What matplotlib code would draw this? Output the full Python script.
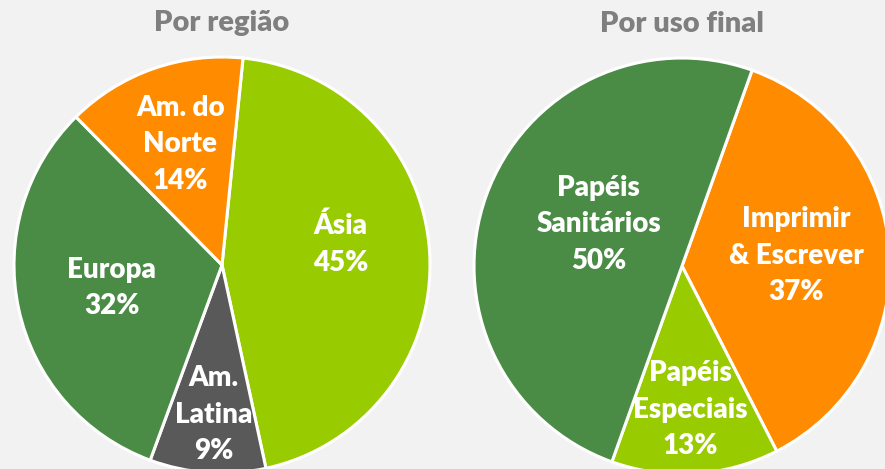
import matplotlib
matplotlib.use('Agg')
import matplotlib.pyplot as plt

# data
regiao_labels = ['Ásia', 'Am.\nLatina', 'Europa', 'Am. do\nNorte']
regiao_vals = [45, 9, 32, 14]
regiao_cores = ['#99cc00', '#595959', '#4a8c46', '#ff8c00']

uso_labels = ['Imprimir\n& Escrever', 'Papéis\nEspeciais', 'Papéis\nSanitários']
uso_vals = [37, 13, 50]
uso_cores = ['#ff8c00', '#99cc00', '#4a8c46']

W, H = 885, 469
BG = '#f2f2f2'
plt.rcParams['font.family'] = ['Lato', 'DejaVu Sans']

fig = plt.figure(figsize=(W / 100, H / 100), dpi=100, facecolor=BG)


def make_axes(cx, cy, r):
    ax = fig.add_axes([(cx - r) / W, (H - cy - r) / H, 2 * r / W, 2 * r / H])
    ax.set_facecolor(BG)
    return ax


def draw_pie(ax, vals, colors, labels, pos, start, title):
    ax.pie(vals, colors=colors, startangle=start, counterclock=False,
           wedgeprops=dict(edgecolor='white', linewidth=2.2), radius=1)
    ax.set_xlim(-1, 1)
    ax.set_ylim(-1, 1)
    ax.set_aspect('equal')
    ax.axis('off')
    for lab, v, (x, y) in zip(labels, vals, pos):
        ax.text(x, y, lab + '\n' + str(v) + '%', ha='center', va='center',
                color='white', fontsize=20, fontweight='heavy', linespacing=1.5)
    ax.text(0, 1.165, title, ha='center', va='center', color='#7f7f7f',
            fontsize=21, fontweight='heavy', clip_on=False)


ax1 = make_axes(222, 265, 208)
draw_pie(ax1, regiao_vals, regiao_cores, regiao_labels,
         [(0.57, 0.10), (-0.04, -0.72), (-0.53, -0.11), (-0.20, 0.58)],
         84.2, 'Por região')

ax2 = make_axes(682, 266, 208)
draw_pie(ax2, uso_vals, uso_cores, uso_labels,
         [(0.55, 0.05), (0.04, -0.69), (-0.40, 0.20)],
         70.3, 'Por uso final')

fig.savefig('out.png', dpi=100, facecolor=BG)
